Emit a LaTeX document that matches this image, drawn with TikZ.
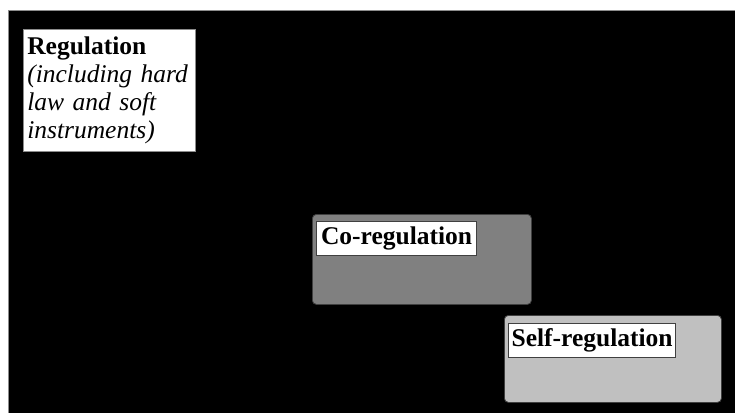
\documentclass[tikz,border=0pt]{standalone}
\usepackage{fontspec}
\setmainfont{Liberation Serif}
\usetikzlibrary{positioning}
\definecolor{coreg}{HTML}{808080}
\definecolor{selfreg}{HTML}{C0C0C0}
\definecolor{rim}{HTML}{404040}
\begin{document}
\begin{tikzpicture}[x=1pt, y=-1pt,
  panel/.style={fill=black, draw=black!45, line width=0.8pt, anchor=north west, inner sep=0pt},
  zone/.style={draw=rim, line width=0.8pt, rounded corners=4pt, anchor=north west, inner sep=0pt},
  tag/.style={fill=white, draw=rim, line width=1.2pt, anchor=north west, font=\fontsize{25.5}{28}\selectfont\bfseries, inner xsep=2.5pt, inner ysep=0pt, minimum height=34pt},
  lead/.style={fill=white, draw=black!45, line width=0.6pt, anchor=north west, align=left, text width=164pt, minimum height=122pt, inner xsep=4pt, inner ysep=2pt, font=\fontsize{25.5}{28}\selectfont}]
\useasboundingbox (0,0) rectangle (735,412);
\node[panel, minimum width=728pt, minimum height=403pt] (frame) at (8,10) {};
% top-down scale of rules
\node[lead] (reg) at (23,29) {\textbf{Regulation}\\ \textit{(including hard\\ law and soft\\ instruments)}};
\node[zone, fill=coreg, minimum width=219pt, minimum height=90pt] (co) at (312,214) {};
\node[tag, minimum width=160pt] (colab) at (316,221) {Co-regulation};
\node[zone, fill=selfreg, minimum width=217pt, minimum height=87pt] (self) at (504,315) {};
\node[tag, minimum width=167pt] (selflab) at (508,323) {Self-regulation};
\end{tikzpicture}
\end{document}
